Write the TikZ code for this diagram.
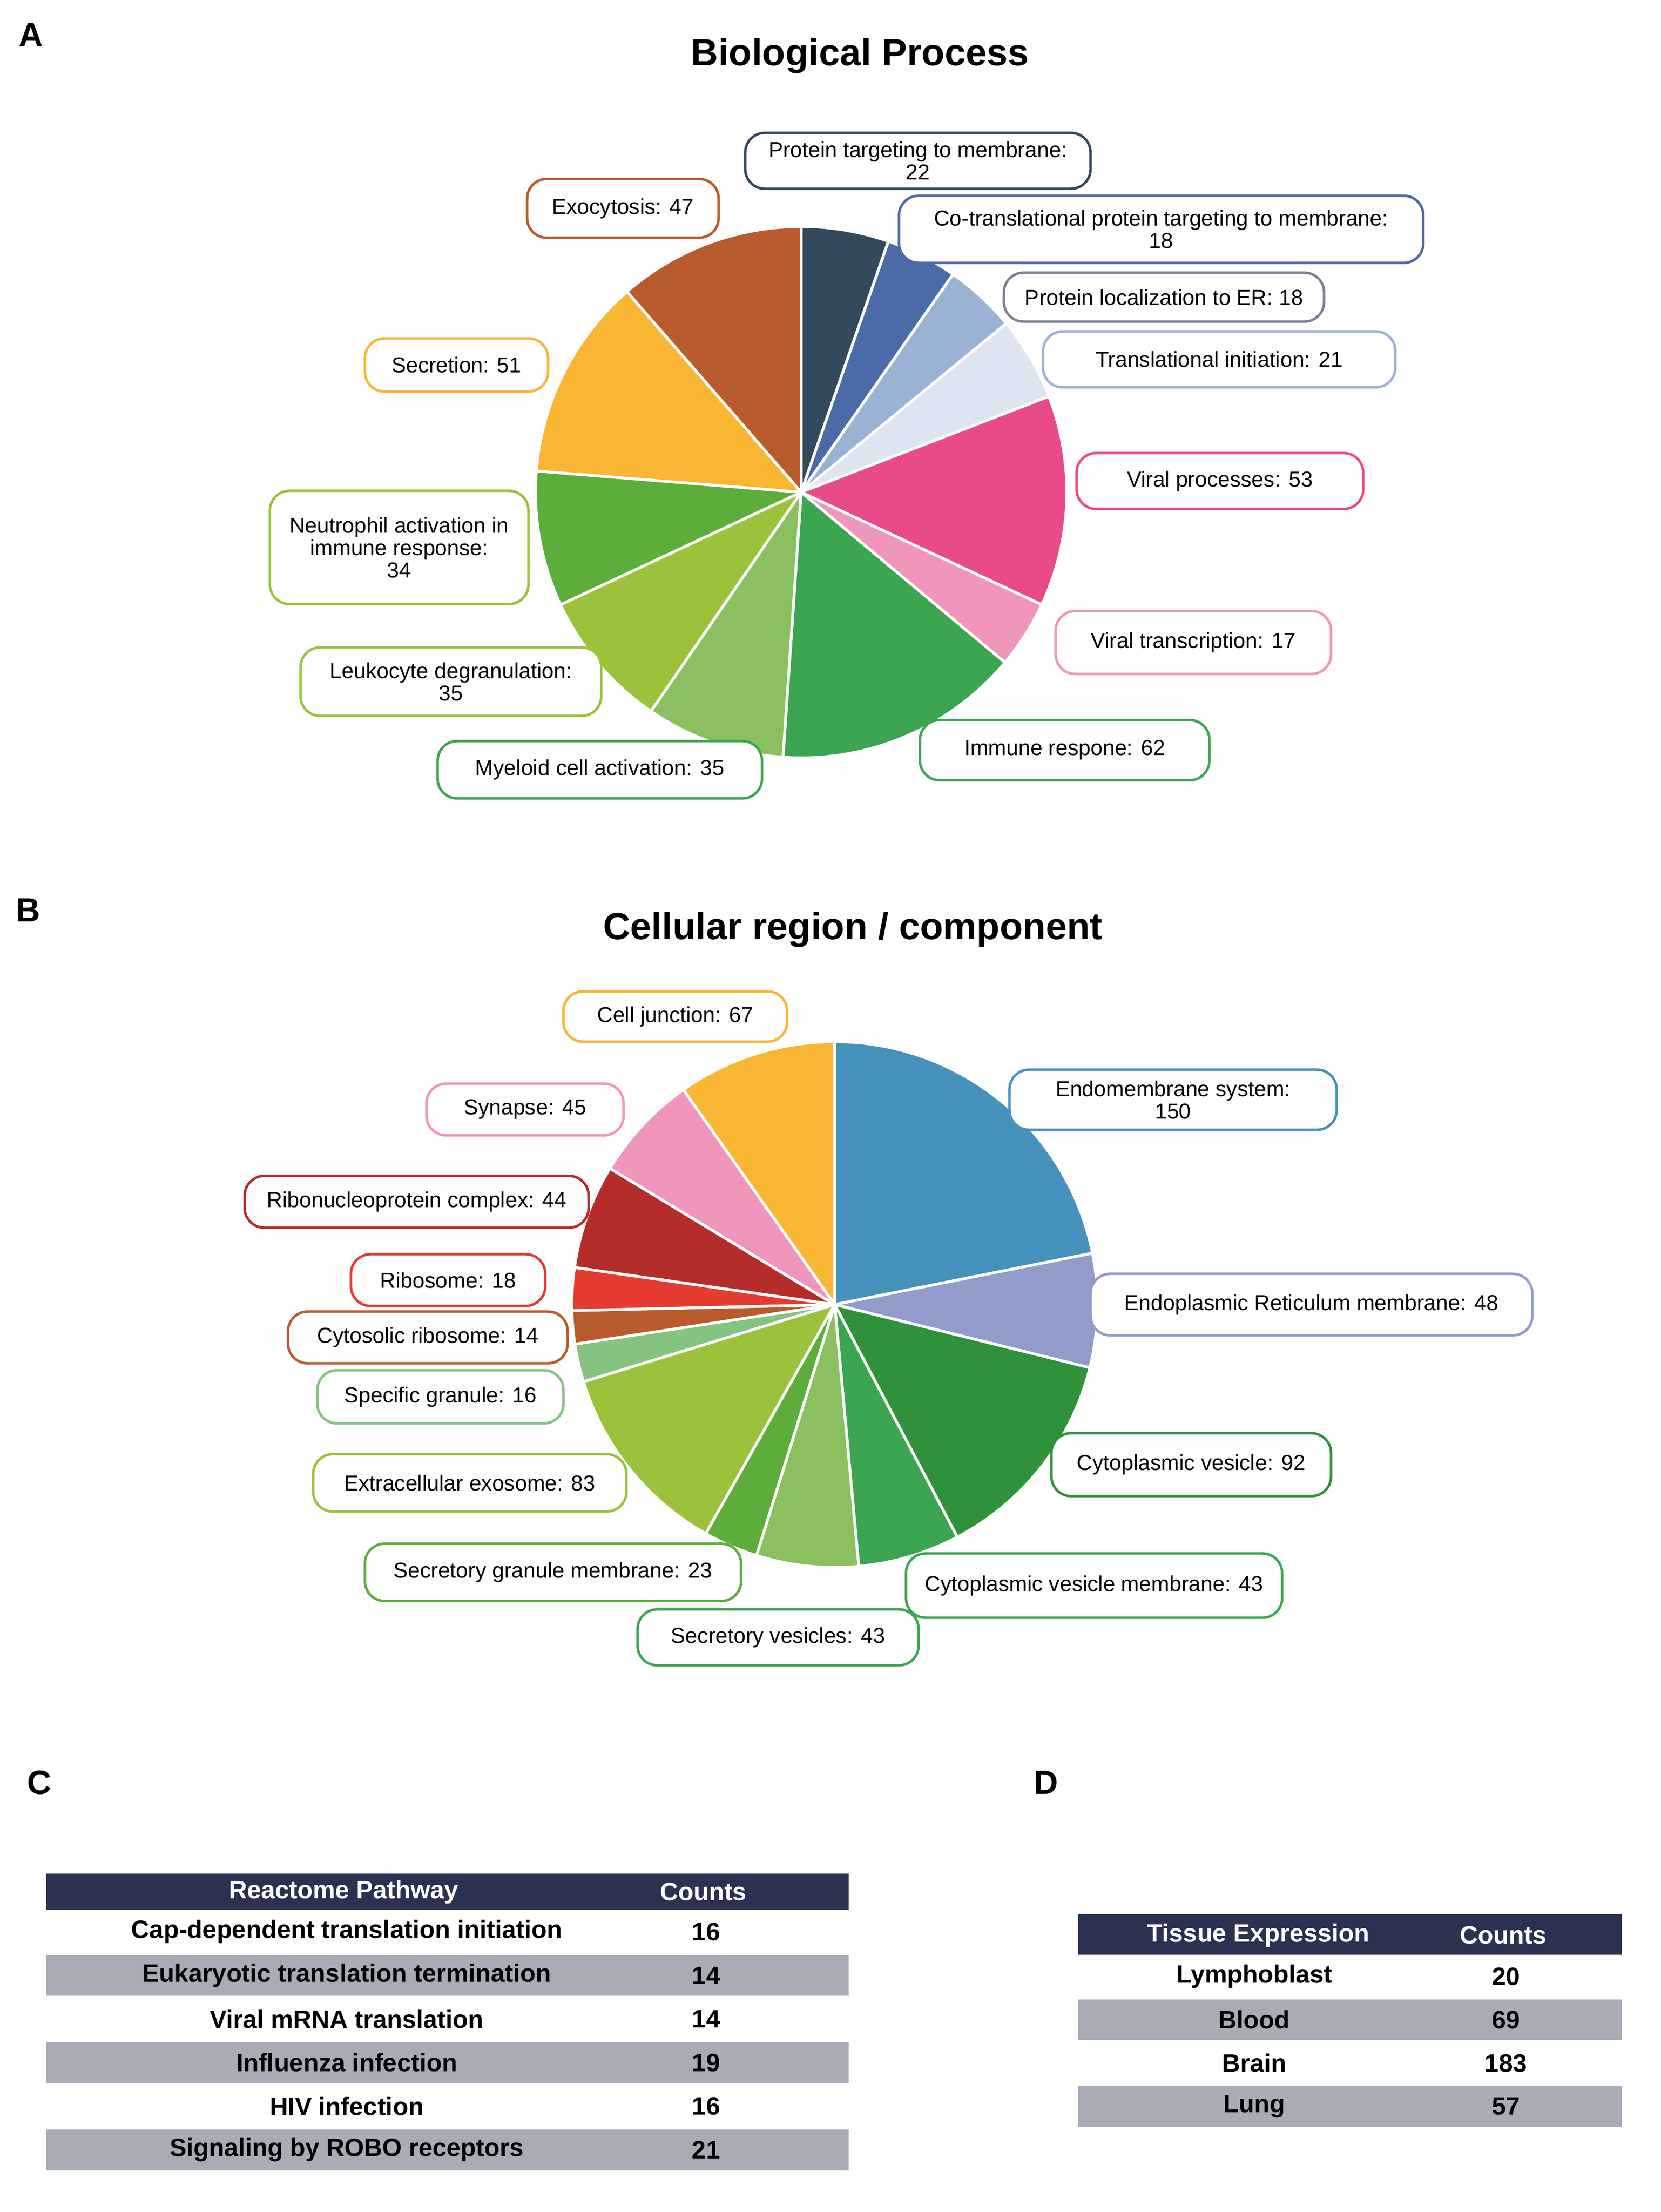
\documentclass[tikz,border=0pt]{standalone}
\usepackage{fontspec}
\setmainfont{Liberation Sans}
\usepackage{xcolor}
\usetikzlibrary{arrows.meta}
% slice colours, panel A
\definecolor{aNavy}{HTML}{34495E}
\definecolor{aBlue}{HTML}{4A6AA8}
\definecolor{aSky}{HTML}{9AB3D5}
\definecolor{aPale}{HTML}{DDE5F0}
\definecolor{aPink}{HTML}{E84A8A}
\definecolor{aRose}{HTML}{F095BB}
\definecolor{aGreen}{HTML}{3BA552}
\definecolor{aLeaf}{HTML}{8BC060}
\definecolor{aLime}{HTML}{9BC23A}
\definecolor{aGrass}{HTML}{5CAD3A}
\definecolor{aGold}{HTML}{F8B633}
\definecolor{aRust}{HTML}{B95B2C}
\definecolor{aGrey}{HTML}{7B8394}
% slice colours, panel B
\definecolor{bSteel}{HTML}{4593BD}
\definecolor{bLav}{HTML}{939BCB}
\definecolor{bForest}{HTML}{2F923A}
\definecolor{bRed}{HTML}{E53B31}
\definecolor{bWine}{HTML}{B52D2A}
\definecolor{bMint}{HTML}{86C280}
% tables
\definecolor{tHead}{HTML}{2B3150}
\definecolor{tGrey}{HTML}{A8ACB7}
\tikzset{%
  slice/.style={draw=white, line width=2pt, line join=round},
  lab/.style={draw=#1, fill=white, rounded corners=14pt, line width=1.8pt, align=center,
    inner sep=0pt, font=\fontsize{15.5}{16}\selectfont},
  ttl/.style={font=\bfseries\fontsize{27}{30}\selectfont},
  pnl/.style={font=\bfseries\fontsize{24}{26}\selectfont},
  cell/.style={font=\bfseries\fontsize{18}{20}\selectfont},
  hcell/.style={font=\bfseries\fontsize{18}{20}\selectfont, text=white}
}

\begin{document}
\begin{tikzpicture}[x=1pt,y=1pt]
\useasboundingbox[fill=white] (0,0) rectangle (1188,-1582);
\node[pnl] (lA) at (22,-25) {A};
\node[pnl] (lB) at (20,-651) {B};
\node[pnl] (lC) at (28,-1275) {C};
\node[pnl] (lD) at (748,-1275) {D};
\node[ttl] (tA) at (615,-40) {Biological Process};
\node[ttl] (tB) at (610,-665) {Cellular region / component};

% pie A
\coordinate (pA) at (573,-352);
\foreach \a/\b/\c in {90/70.82/aNavy, 70.82/55.13/aBlue, 55.13/39.44/aSky, 39.44/21.14/aPale,
  21.14/-25.06/aPink, -25.06/-39.88/aRose, -39.88/-93.92/aGreen, -93.92/-124.43/aLeaf,
  -124.43/-154.94/aLime, -154.94/-184.58/aGrass, -184.58/-229.03/aGold, -229.03/-270/aRust}
  \filldraw[slice, fill=\c] (pA) -- ++(\a:190) arc[start angle=\a, end angle=\b, radius=190] -- cycle;

\node[lab=aNavy, minimum width=247, minimum height=40] (ptm) at (656.5,-115) {Protein targeting to membrane:\\22};
\node[lab=aBlue, minimum width=375, minimum height=48] (ctp) at (830.5,-164) {Co-translational protein targeting to membrane:\\18};
\node[lab=aGrey, minimum width=229, minimum height=35] (ple) at (832.5,-212.5) {Protein localization to ER: 18};
\node[lab=aSky, minimum width=252, minimum height=40] (tin) at (872,-257) {Translational initiation: 21};
\node[lab=aPink, minimum width=205, minimum height=40] (vpr) at (872.5,-344) {Viral processes: 53};
\node[lab=aRose, minimum width=197, minimum height=45] (vtr) at (853.5,-459.5) {Viral transcription: 17};
\node[lab=aGreen, minimum width=207, minimum height=43] (imr) at (761.5,-536.5) {Immune respone: 62};
\node[lab=aGreen, minimum width=232, minimum height=41] (myc) at (429,-550.5) {Myeloid cell activation: 35};
\node[lab=aLime, minimum width=215, minimum height=49] (leu) at (322.5,-487.5) {Leukocyte degranulation:\\35};
\node[lab=aLime, minimum width=185, minimum height=81] (neu) at (285.5,-391.5) {Neutrophil activation in\\immune response:\\34};
\node[lab=aGold, minimum width=131, minimum height=38] (sec) at (326.5,-261) {Secretion: 51};
\node[lab=aRust, minimum width=137, minimum height=42] (exo) at (445.5,-149) {Exocytosis: 47};

% pie B
\coordinate (pB) at (597,-933);
\foreach \a/\b/\c in {90/11.28/bSteel, 11.28/-13.91/bLav, -13.91/-62.19/bForest, -62.19/-84.75/aGreen,
  -84.75/-107.32/aLeaf, -107.32/-119.39/aGrass, -119.39/-162.94/aLime, -162.94/-171.34/bMint,
  -171.34/-178.69/aRust, -178.69/-188.13/bRed, -188.13/-211.22/bWine, -211.22/-234.84/aRose,
  -234.84/-270/aGold}
  \filldraw[slice, fill=\c] (pB) -- ++(\a:188) arc[start angle=\a, end angle=\b, radius=188] -- cycle;

\node[lab=aGold, minimum width=160, minimum height=36] (cju) at (483,-727) {Cell junction: 67};
\node[lab=bSteel, minimum width=234, minimum height=43] (ems) at (839,-786.5) {Endomembrane system:\\150};
\node[lab=aRose, minimum width=141, minimum height=37] (syn) at (375.5,-793.5) {Synapse: 45};
\node[lab=bWine, minimum width=246, minimum height=37] (rnp) at (298,-859.5) {Ribonucleoprotein complex: 44};
\node[lab=bRed, minimum width=139, minimum height=37] (rib) at (320.5,-915.5) {Ribosome: 18};
\node[lab=bLav, minimum width=316, minimum height=44] (erm) at (938,-933) {Endoplasmic Reticulum membrane: 48};
\node[lab=aRust, minimum width=200, minimum height=37] (cri) at (306,-956.5) {Cytosolic ribosome: 14};
\node[lab=bMint, minimum width=176, minimum height=38] (spg) at (315,-999) {Specific granule: 16};
\node[lab=bForest, minimum width=200, minimum height=45] (cyv) at (852,-1047.5) {Cytoplasmic vesicle: 92};
\node[lab=aLime, minimum width=224, minimum height=41] (exs) at (336,-1060.5) {Extracellular exosome: 83};
\node[lab=aGrass, minimum width=269, minimum height=41] (sgm) at (395.5,-1124.5) {Secretory granule membrane: 23};
\node[lab=aGreen, minimum width=269, minimum height=46] (cvm) at (782.5,-1134) {Cytoplasmic vesicle membrane: 43};
\node[lab=aGreen, minimum width=201, minimum height=40] (sve) at (556.5,-1171) {Secretory vesicles: 43};

% table C
\fill[tHead] (33,-1340) rectangle (607,-1366);
\node[hcell] (hC1) at (246,-1353) {Reactome Pathway};
\node[hcell] (hC2) at (503,-1353) {Counts};
\foreach \i/\t/\n in {1/Cap-dependent translation initiation/16, 2/Eukaryotic translation termination/14,
  3/Viral mRNA translation/14, 4/Influenza infection/19, 5/HIV infection/16, 6/Signaling by ROBO receptors/21}{
  \ifodd\i\else\fill[tGrey] (33,{-1366-31.2*(\i-1)-1}) rectangle (607,{-1366-31.2*\i+1});\fi
  \node[cell] (rC\i) at (248,{-1381.6-31.2*(\i-1)}) {\t};
  \node[cell] (nC\i) at (505,{-1381.6-31.2*(\i-1)}) {\n};
}

% table D
\fill[tHead] (771,-1369) rectangle (1160,-1398);
\node[hcell] (hD1) at (900,-1384) {Tissue Expression};
\node[hcell] (hD2) at (1075,-1384) {Counts};
\foreach \i/\t/\n in {1/Lymphoblast/20, 2/Blood/69, 3/Brain/183, 4/Lung/57}{
  \ifodd\i\else\fill[tGrey] (771,{-1398-31*(\i-1)-1}) rectangle (1160,{-1398-31*\i+1});\fi
  \node[cell] (rD\i) at (897,{-1413.5-31*(\i-1)}) {\t};
  \node[cell] (nD\i) at (1077,{-1413.5-31*(\i-1)}) {\n};
}
\end{tikzpicture}
\end{document}
